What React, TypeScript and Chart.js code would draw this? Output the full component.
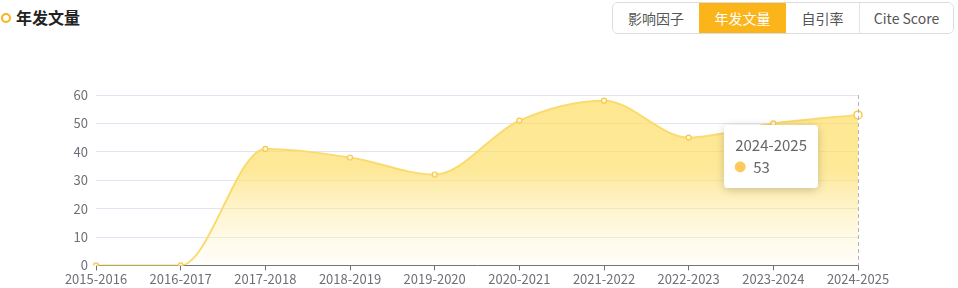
import React, { useEffect, useRef } from "react";
import { Chart, registerables } from "chart.js";

Chart.register(...registerables);

const categories = [
  "2015-2016", "2016-2017", "2017-2018", "2018-2019", "2019-2020",
  "2020-2021", "2021-2022", "2022-2023", "2023-2024", "2024-2025",
];
const publications = [0, 0, 41, 38, 32, 51, 58, 45, 50, 53];
const yTicks = [0, 10, 20, 30, 40, 50, 60];
const tabs = ["影响因子", "年发文量", "自引率", "Cite Score"];
const tabWidths = [87, 87, 73, 94];
const activeTab = 1;
const title = "年发文量";
const activeIndex = 9;

const FONT = "'Noto Sans CJK SC', 'Noto Sans', sans-serif";

export default function App() {
  const ref = useRef<HTMLCanvasElement>(null);

  useEffect(() => {
    document.body.style.margin = "0";
    const canvas = ref.current!;
    const positioners: any = (Chart as any).registry.plugins.get("tooltip").positioners;
    positioners.fixedLeft = function (items: any[]) {
      if (!items.length) return false;
      const el = items[0].element;
      return { x: el.x - 44, y: el.y + 10, xAlign: "right", yAlign: "top" };
    };

    const pointerPlugin = {
      id: "pointer",
      afterDatasetsDraw(chart: any) {
        const act = chart.getActiveElements();
        if (!act.length) return;
        const x = act[0].element.x;
        const { top, bottom } = chart.chartArea;
        const ctx = chart.ctx;
        ctx.save();
        ctx.strokeStyle = "#b4b4b4";
        ctx.lineWidth = 1;
        ctx.setLineDash([4, 3]);
        ctx.beginPath();
        ctx.moveTo(Math.round(x) + 0.5, top);
        ctx.lineTo(Math.round(x) + 0.5, bottom);
        ctx.stroke();
        ctx.restore();
      },
      beforeTooltipDraw(chart: any, args: any) {
        const t = args.tooltip;
        if (!t || !t.opacity) return;
        const ctx = chart.ctx;
        ctx.save();
        ctx.shadowColor = "rgba(0,0,0,0.2)";
        ctx.shadowBlur = 10;
        ctx.shadowOffsetY = 2;
        ctx.fillStyle = "#fff";
        ctx.beginPath();
        (ctx as any).roundRect(t.x, t.y, t.width, t.height, 4);
        ctx.fill();
        ctx.restore();
      },
    };

    const chart = new Chart(canvas, {
      type: "line",
      data: {
        labels: categories,
        datasets: [
          {
            data: publications,
            borderColor: "#fadb6e",
            borderWidth: 2,
            fill: "origin",
            backgroundColor: (c: any) => {
              const area = c.chart.chartArea;
              if (!area) return "rgba(253,220,100,0.6)";
              const g = c.chart.ctx.createLinearGradient(0, area.top, 0, area.bottom);
              g.addColorStop(0, "rgba(253,222,100,0.72)");
              g.addColorStop(0.45, "rgba(253,222,105,0.68)");
              g.addColorStop(1, "rgba(255,248,220,0.2)");
              return g;
            },
            cubicInterpolationMode: "monotone",
            pointRadius: 2.5,
            pointBorderWidth: 1.2,
            pointBorderColor: "#f8c94d",
            pointBackgroundColor: "#fff6d8",
            pointHoverRadius: 4,
            pointHoverBorderWidth: 1.5,
            pointHoverBorderColor: "#f8c94d",
            pointHoverBackgroundColor: "#fff",
          } as any,
        ],
      },
      options: {
        animation: false,
        responsive: false,
        events: [],
        layout: { padding: { top: 47, right: 100, bottom: 0, left: 0 } },
        plugins: {
          legend: { display: false },
          tooltip: {
            enabled: true,
            position: "fixedLeft" as any,
            backgroundColor: "#ffffff",
            titleColor: "#666666",
            bodyColor: "#666666",
            titleFont: { family: FONT, size: 15, weight: "normal" as any },
            bodyFont: { family: FONT, size: 15 },
            titleMarginBottom: 4,
            padding: { top: 11, bottom: 12, left: 11, right: 11 },
            caretSize: 0,
            caretPadding: 0,
            cornerRadius: 4,
            displayColors: true,
            usePointStyle: true,
            boxWidth: 10,
            boxHeight: 10,
            boxPadding: 6,
            callbacks: {
              label: (item: any) => String(item.raw),
              labelColor: () => ({ borderColor: "#fcc95a", backgroundColor: "#fcc95a", borderWidth: 0 }),
              labelPointStyle: () => ({ pointStyle: "circle", rotation: 0 }),
            },
          },
        },
        scales: {
          x: {
            offset: false,
            grid: { drawOnChartArea: false, drawTicks: true, tickLength: 5, color: "#6e7079" },
            border: { display: true, color: "#6e7079" },
            ticks: { color: "#6e7079", font: { family: FONT, size: 13 }, padding: 1, maxRotation: 0, autoSkip: false },
          },
          y: {
            min: yTicks[0],
            max: yTicks[yTicks.length - 1],
            afterFit: (s: any) => { s.width = 96; },
            afterBuildTicks: (s: any) => { s.ticks = yTicks.map((v) => ({ value: v })); },
            grid: { color: "#e0e6f1", drawTicks: false },
            border: { display: false },
            ticks: { color: "#6e7079", font: { family: FONT, size: 13 }, padding: 8 },
          },
        },
      },
      plugins: [pointerPlugin],
    });

    const act = [{ datasetIndex: 0, index: activeIndex }];
    chart.setActiveElements(act);
    const el: any = chart.getDatasetMeta(0).data[activeIndex];
    chart.tooltip!.setActiveElements(act, { x: el.x, y: el.y });
    chart.update();

    return () => chart.destroy();
  }, []);

  return (
    <div style={{ position: "fixed", left: 0, top: 0, width: 958, height: 288, background: "#fff", fontFamily: FONT, overflow: "hidden" }}>
      <div style={{ position: "absolute", left: 1, top: 13, width: 6, height: 6, borderRadius: "50%", border: "2px solid #f7b31b" }} />
      <div style={{ position: "absolute", left: 16, top: 4, fontSize: 16, fontWeight: 700, color: "#222", lineHeight: "26px" }}>{title}</div>
      <div style={{ position: "absolute", left: 612, top: 2, height: 32, display: "flex", border: "1px solid #dcdcdc", borderRadius: 6, overflow: "hidden", boxSizing: "border-box" }}>
        {tabs.map((t, i) => (
          <div key={t} style={{
            width: tabWidths[i] - (i === 0 ? 1 : 0), height: 30, lineHeight: "30px", textAlign: "center", fontSize: 14,
            color: i === activeTab ? "#fff" : "#555", background: i === activeTab ? "#fbb41a" : "#fff",
            borderLeft: i > 0 && i !== activeTab && i - 1 !== activeTab ? "1px solid #e4e4e4" : "none",
            boxSizing: "border-box",
          }}>{t}</div>
        ))}
      </div>
      <canvas ref={ref} width={958} height={240} style={{ position: "absolute", left: 0, top: 48, width: 958, height: 240 }} />
    </div>
  );
}
